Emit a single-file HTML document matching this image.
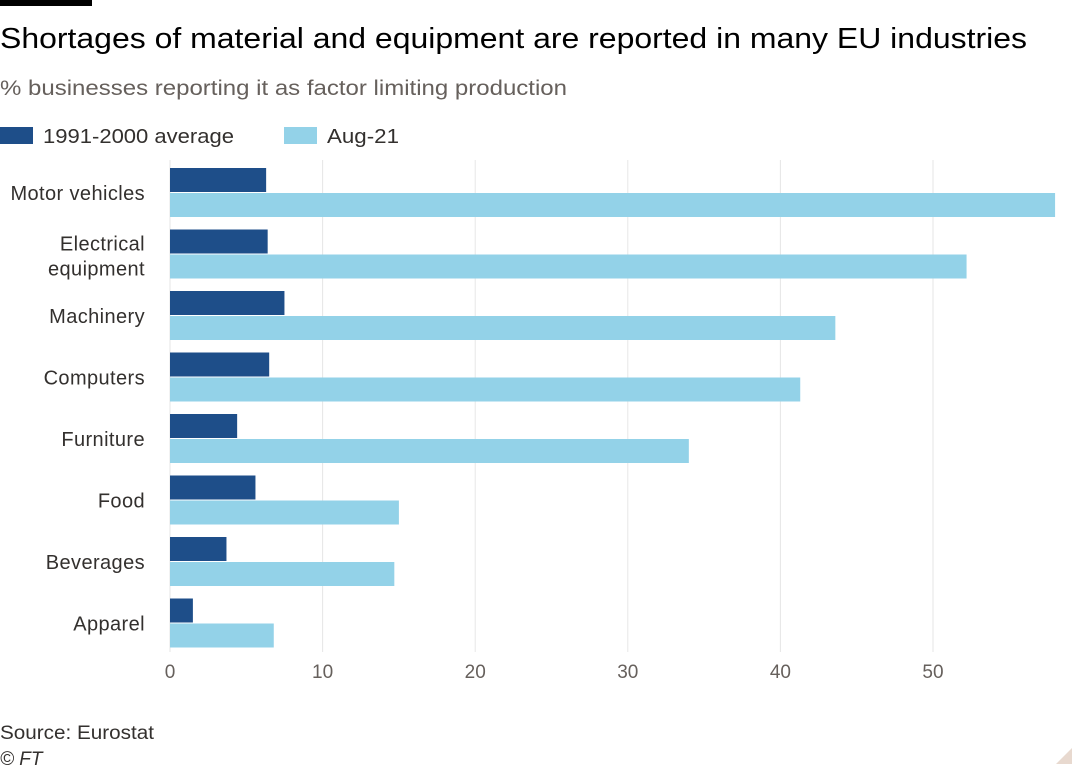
<!DOCTYPE html>
<html><head><meta charset="utf-8"><style>
body{margin:0;background:#fff;width:1080px;height:771px;overflow:hidden;font-family:"Liberation Sans",sans-serif;}
svg text{font-family:"Liberation Sans",sans-serif;}
</style></head><body>
<svg width="1080" height="771">
<rect x="0" y="0" width="92" height="6" fill="#000"/>
<text x="0" y="48" font-size="29" fill="#000" textLength="1027" lengthAdjust="spacingAndGlyphs">Shortages of material and equipment are reported in many EU industries</text>
<text x="0" y="95" font-size="21" fill="#66605c" textLength="567" lengthAdjust="spacingAndGlyphs">% businesses reporting it as factor limiting production</text>
<rect x="0" y="127" width="33" height="17" fill="#1e4e89"/>
<text x="43" y="143" font-size="20" fill="#33302e" textLength="191" lengthAdjust="spacingAndGlyphs">1991-2000 average</text>
<rect x="284" y="127" width="33" height="17" fill="#93d2e8"/>
<text x="327" y="143" font-size="20" fill="#33302e" textLength="72" lengthAdjust="spacingAndGlyphs">Aug-21</text>
<g id="plot"></g>
<text x="0" y="739" font-size="19" fill="#33302e" textLength="154" lengthAdjust="spacingAndGlyphs">Source: Eurostat</text>
<text x="0" y="765" font-size="19" font-style="italic" fill="#33302e">© FT</text>
<polygon points="1072,748 1072,764 1056,764" fill="#e8d9cf"/>
</svg>
<script>
const categories=["Motor vehicles","Electrical|equipment","Machinery","Computers","Furniture","Food","Beverages","Apparel"];
const avgValues=[6.3,6.4,7.5,6.5,4.4,5.6,3.7,1.5];
const augValues=[58,52.2,43.6,41.3,34,15,14.7,6.8];
const ticks=[0,10,20,30,40,50];
const NS="http://www.w3.org/2000/svg";
const g=document.getElementById('plot');
const x0=170,pxPer=15.26,top0=168,step=61.5,barH=24;
const xs=v=>x0+v*pxPer;
function mk(t,a){const e=document.createElementNS(NS,t);for(const k in a)e.setAttribute(k,a[k]);g.appendChild(e);return e;}
ticks.forEach(t=>{
 const l=mk('line',{x1:xs(t),x2:xs(t),y1:160,y2:652,stroke:'#e6e6e6','stroke-width':1});
 
 
 const tx=mk('text',{x:xs(t),y:678,'font-size':19,'text-anchor':'middle',fill:'#66605c'});
 tx.textContent=t;
 
 
});
categories.forEach((c,i)=>{
 const y=top0+i*step;
 const a=mk('rect',{x:x0,y:y,width:xs(avgValues[i])-x0,height:barH,fill:'#1e4e89'});
 
 
 const b=mk('rect',{x:x0,y:y+barH+1,width:xs(augValues[i])-x0,height:barH,fill:'#93d2e8'});
 
 
 const parts=c.split('|');
 parts.forEach((p,j)=>{
  const yy=parts.length===1?y+32:y+21+j*25;
  const t=mk('text',{x:145,y:yy,'font-size':20,'letter-spacing':0.4,'text-anchor':'end',fill:'#33302e'});
  t.textContent=p;
  
  
 });
});
</script>
</body></html>
